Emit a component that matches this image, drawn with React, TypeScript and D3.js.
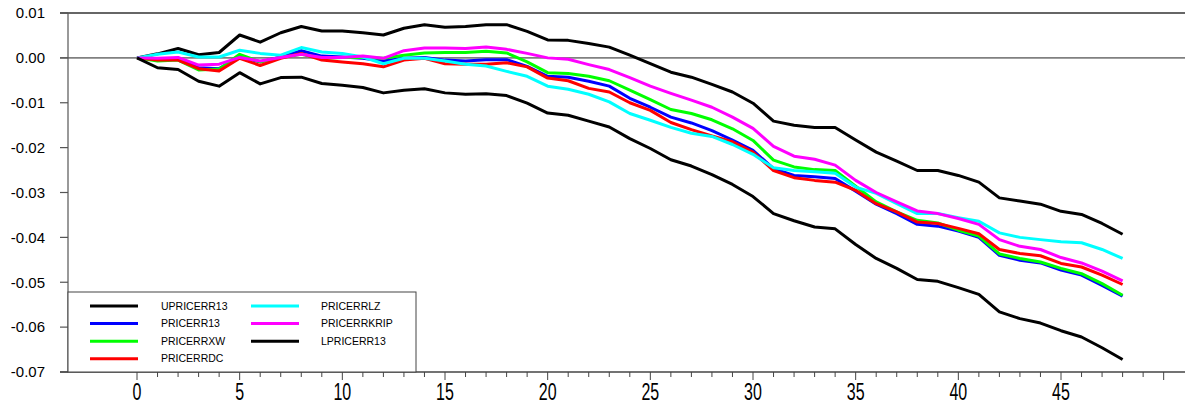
import React from 'react';
import * as d3 from 'd3';

// horizon steps
const steps = d3.range(0, 49);

const upricerr13 = [
  0, 0.0009, 0.0021, 0.0007, 0.0012, 0.0051, 0.0035, 0.0056, 0.0070, 0.0060,
  0.0060, 0.0056, 0.0051, 0.0066, 0.0074, 0.0068, 0.0070, 0.0074, 0.0074, 0.0059,
  0.0040, 0.0039, 0.0032, 0.0024, 0.0006, -0.0013, -0.0032, -0.0043, -0.0059, -0.0076,
  -0.0101, -0.0141, -0.0150, -0.0155, -0.0155, -0.0183, -0.0210, -0.0230, -0.0251, -0.0251,
  -0.0262, -0.0277, -0.0312, -0.0319, -0.0326, -0.0342, -0.0349, -0.0369, -0.0393,
];

const pricerr13 = [
  0, -0.0003, -0.0001, -0.0022, -0.0024, 0.0002, -0.0009, 0.0002, 0.0016, 0.0004,
  0.0002, -0.0001, -0.0007, -0.0001, 0.0001, -0.0005, -0.0007, -0.0004, -0.0004, -0.0019,
  -0.0041, -0.0043, -0.0052, -0.0063, -0.0090, -0.0110, -0.0132, -0.0145, -0.0162, -0.0183,
  -0.0206, -0.0247, -0.0262, -0.0265, -0.0269, -0.0297, -0.0326, -0.0347, -0.0371, -0.0375,
  -0.0386, -0.0400, -0.0440, -0.0451, -0.0457, -0.0473, -0.0484, -0.0507, -0.0531,
];

const pricerrxw = [
  0, -0.0007, -0.0005, -0.0027, -0.0025, 0.0008, -0.0009, 0.0001, 0.0008, -0.0001,
  0.0001, 0.0001, -0.0001, 0.0006, 0.0011, 0.0012, 0.0012, 0.0015, 0.0011, -0.0009,
  -0.0033, -0.0035, -0.0041, -0.0051, -0.0072, -0.0093, -0.0115, -0.0124, -0.0138, -0.0158,
  -0.0184, -0.0228, -0.0243, -0.0249, -0.0251, -0.0286, -0.0321, -0.0343, -0.0362, -0.0368,
  -0.0384, -0.0397, -0.0437, -0.0447, -0.0455, -0.0469, -0.0481, -0.0503, -0.0529,
];

const pricerrdc = [
  0, -0.0005, -0.0005, -0.0024, -0.0029, -0.0001, -0.0017, -0.0001, 0.0010, -0.0005,
  -0.0009, -0.0013, -0.0020, -0.0005, -0.0001, -0.0013, -0.0014, -0.0014, -0.0011, -0.0020,
  -0.0045, -0.0051, -0.0068, -0.0076, -0.0100, -0.0117, -0.0144, -0.0160, -0.0174, -0.0187,
  -0.0210, -0.0251, -0.0267, -0.0273, -0.0277, -0.0295, -0.0325, -0.0343, -0.0366, -0.0369,
  -0.0380, -0.0392, -0.0427, -0.0436, -0.0441, -0.0458, -0.0466, -0.0484, -0.0505,
];

const pricerrlz = [
  0, 0.0008, 0.0013, 0.0002, 0.0002, 0.0017, 0.0010, 0.0006, 0.0023, 0.0013,
  0.0010, 0.0002, -0.0013, -0.0001, -0.0001, -0.0007, -0.0014, -0.0018, -0.0030, -0.0041,
  -0.0063, -0.0070, -0.0081, -0.0098, -0.0124, -0.0139, -0.0155, -0.0168, -0.0175, -0.0193,
  -0.0215, -0.0245, -0.0251, -0.0254, -0.0257, -0.0288, -0.0302, -0.0325, -0.0347, -0.0347,
  -0.0356, -0.0364, -0.0390, -0.0400, -0.0405, -0.0410, -0.0412, -0.0427, -0.0447,
];

const pricerrkrip = [
  0, -0.0001, 0.0001, -0.0016, -0.0014, 0.0001, -0.0007, 0.0001, 0.0008, 0.0001,
  0.0001, 0.0004, -0.0001, 0.0016, 0.0022, 0.0022, 0.0021, 0.0024, 0.0019, 0.0010,
  0.0000, -0.0003, -0.0015, -0.0026, -0.0044, -0.0063, -0.0079, -0.0094, -0.0110, -0.0132,
  -0.0157, -0.0197, -0.0219, -0.0226, -0.0239, -0.0273, -0.0300, -0.0321, -0.0341, -0.0347,
  -0.0358, -0.0371, -0.0405, -0.0420, -0.0427, -0.0445, -0.0457, -0.0475, -0.0497,
];

const lpricerr13 = [
  0, -0.0022, -0.0026, -0.0052, -0.0063, -0.0033, -0.0058, -0.0044, -0.0043, -0.0057,
  -0.0061, -0.0066, -0.0078, -0.0072, -0.0069, -0.0078, -0.0081, -0.0080, -0.0084, -0.0101,
  -0.0123, -0.0128, -0.0141, -0.0154, -0.0180, -0.0202, -0.0227, -0.0241, -0.0260, -0.0282,
  -0.0309, -0.0347, -0.0363, -0.0377, -0.0381, -0.0416, -0.0447, -0.0469, -0.0494, -0.0498,
  -0.0512, -0.0527, -0.0566, -0.0581, -0.0591, -0.0608, -0.0622, -0.0646, -0.0672,
];

const seriesNames = ['UPRICERR13', 'PRICERR13', 'PRICERRXW', 'PRICERRDC', 'PRICERRLZ', 'PRICERRKRIP', 'LPRICERR13'];
const seriesValues = [upricerr13, pricerr13, pricerrxw, pricerrdc, pricerrlz, pricerrkrip, lpricerr13];
const seriesColors = ['#000000', '#0000ff', '#00ff00', '#ff0000', '#00ffff', '#ff00ff', '#000000'];

const xTickLabels = [0, 5, 10, 15, 20, 25, 30, 35, 40, 45];
const xMinorTicks = d3.range(0, 51);
const yTicks = [0.01, 0, -0.01, -0.02, -0.03, -0.04, -0.05, -0.06, -0.07];

const W = 1185;
const H = 404;
const axisX = 68;
const axisY = 372;

export default function App() {
  const x = d3.scaleLinear().domain([0, 48]).range([137, 1122.6]);
  const y = d3.scaleLinear().domain([-0.07, 0.01]).range([axisY, 13]);

  const line = d3.line<number>()
    .x((_, i) => x(steps[i]))
    .y(d => y(d));

  // legend layout: 4 rows in first column, 3 in second
  const legendItems = seriesNames.map((name, i) => {
    const col = i < 4 ? 0 : 1;
    const row = i < 4 ? i : i - 4;
    return {name, color: seriesColors[i], col, row};
  });

  return (
    <svg width={W} height={H} style={{position: 'absolute', left: 0, top: 0, background: '#fff'}}
         fontFamily="'Liberation Sans', Arial, sans-serif">
      {/* top frame line and zero line */}
      <line x1={60} x2={W} y1={y(0.01)} y2={y(0.01)} stroke="#333" strokeWidth={1.3}/>
      <line x1={60} x2={W} y1={y(0)} y2={y(0)} stroke="#808080" strokeWidth={1.6}/>

      {/* y axis */}
      <line x1={axisX} x2={axisX} y1={y(0.01)} y2={axisY} stroke="#555" strokeWidth={1.2}/>
      {yTicks.map(t => (
        <g key={t}>
          <line x1={60} x2={axisX} y1={y(t)} y2={y(t)} stroke="#555" strokeWidth={1.2}/>
          <text x={45} y={y(t)} dy="0.35em" textAnchor="end" fontSize={15} fill="#000">
            {t.toFixed(2)}
          </text>
        </g>
      ))}

      {/* x axis */}
      <line x1={60} x2={W} y1={axisY} y2={axisY} stroke="#444" strokeWidth={1.3}/>
      {xMinorTicks.map(t => (
        <line key={t} x1={x(t)} x2={x(t)} y1={axisY} y2={axisY + (t % 5 === 0 ? 8 : 5)}
              stroke="#444" strokeWidth={1}/>
      ))}
      {xTickLabels.map(t => (
        <text key={t} transform={`translate(${x(t)},399.5) scale(1,1.5)`} textAnchor="middle"
              fontSize={16} fill="#000">{t}</text>
      ))}

      {/* series */}
      {seriesValues.map((vals, i) => (
        <path key={seriesNames[i]} d={line(vals) || ''} fill="none" stroke={seriesColors[i]}
              strokeWidth={3} strokeLinejoin="round"/>
      ))}

      {/* legend */}
      <rect x={axisX} y={292} width={416 - axisX} height={axisY - 292} fill="#fff" stroke="#444" strokeWidth={1}/>
      {legendItems.map(d => {
        const lx = d.col === 0 ? 90 : 251;
        const tx = d.col === 0 ? 161 : 321;
        const ly = 306 + d.row * 17.6;
        return (
          <g key={d.name}>
            <line x1={lx} x2={lx + 48} y1={ly} y2={ly} stroke={d.color} strokeWidth={3}/>
            <text x={tx} y={ly} dy="0.35em" fontSize={10.5} fill="#000">{d.name}</text>
          </g>
        );
      })}
    </svg>
  );
}
